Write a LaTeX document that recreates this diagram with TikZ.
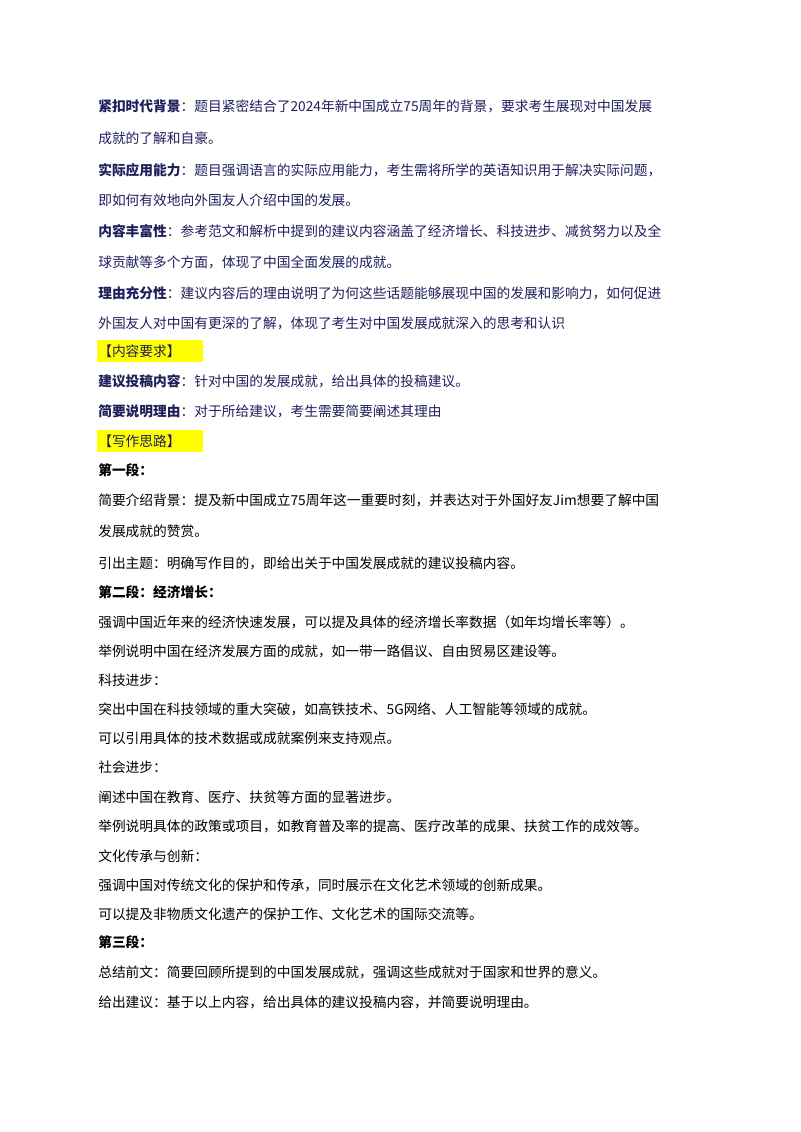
\documentclass[tikz,border=0pt]{standalone}
\usepackage{fontspec}
\newfontfamily\cjk{Noto Sans CJK SC}
\definecolor{navy}{HTML}{1F1F5C}
\definecolor{hl}{HTML}{FFFF00}
\begin{document}
\begin{tikzpicture}[x=0.75pt,y=-0.75pt,
  ln/.style={anchor=west,inner sep=0pt,font=\cjk\fontsize{10.3pt}{12pt}\selectfont},
  nv/.style={ln,text=navy},
  bk/.style={ln,text=black}]
\useasboundingbox[fill=white] (0,0) rectangle (800,1132);
\fill[hl] (97,340) rectangle (203,362);
\fill[hl] (97,430) rectangle (203,452);
\node[nv] (l1) at (98,106) {\textbf{紧扣时代背景}：题目紧密结合了2024年新中国成立75周年的背景，要求考生展现对中国发展};
\node[nv] (l2) at (98,138) {成就的了解和自豪。};
\node[nv] (l3) at (98,170) {\textbf{实际应用能力}：题目强调语言的实际应用能力，考生需将所学的英语知识用于解决实际问题，};
\node[nv] (l4) at (98,200) {即如何有效地向外国友人介绍中国的发展。};
\node[nv] (l5) at (98,231) {\textbf{内容丰富性}：参考范文和解析中提到的建议内容涵盖了经济增长、科技进步、减贫努力以及全};
\node[nv] (l6) at (98,262) {球贡献等多个方面，体现了中国全面发展的成就。};
\node[nv] (l7) at (98,293) {\textbf{理由充分性}：建议内容后的理由说明了为何这些话题能够展现中国的发展和影响力，如何促进};
\node[nv] (l8) at (98,323) {外国友人对中国有更深的了解，体现了考生对中国发展成就深入的思考和认识};
\node[nv] (h1) at (98,351) {【内容要求】};
\node[nv] (l9) at (98,381) {\textbf{建议投稿内容}：针对中国的发展成就，给出具体的投稿建议。};
\node[nv] (l10) at (98,411) {\textbf{简要说明理由}：对于所给建议，考生需要简要阐述其理由};
\node[nv] (h2) at (98,441) {【写作思路】};
\node[bk] (a1) at (98,470) {\textbf{第一段：}};
\node[bk] (a2) at (98,500) {简要介绍背景：提及新中国成立75周年这一重要时刻，并表达对于外国好友Jim想要了解中国};
\node[bk] (a3) at (98,531) {发展成就的赞赏。};
\node[bk] (a4) at (98,563) {引出主题：明确写作目的，即给出关于中国发展成就的建议投稿内容。};
\node[bk] (a5) at (98,592) {\textbf{第二段：经济增长：}};
\node[bk] (a6) at (98,622) {强调中国近年来的经济快速发展，可以提及具体的经济增长率数据（如年均增长率等）。};
\node[bk] (a7) at (98,651) {举例说明中国在经济发展方面的成就，如一带一路倡议、自由贸易区建设等。};
\node[bk] (a8) at (98,680) {科技进步：};
\node[bk] (a9) at (98,709) {突出中国在科技领域的重大突破，如高铁技术、5G网络、人工智能等领域的成就。};
\node[bk] (a10) at (98,738) {可以引用具体的技术数据或成就案例来支持观点。};
\node[bk] (a11) at (98,767) {社会进步：};
\node[bk] (a12) at (98,797) {阐述中国在教育、医疗、扶贫等方面的显著进步。};
\node[bk] (a13) at (98,826) {举例说明具体的政策或项目，如教育普及率的提高、医疗改革的成果、扶贫工作的成效等。};
\node[bk] (a14) at (98,856) {文化传承与创新：};
\node[bk] (a15) at (98,885) {强调中国对传统文化的保护和传承，同时展示在文化艺术领域的创新成果。};
\node[bk] (a16) at (98,914) {可以提及非物质文化遗产的保护工作、文化艺术的国际交流等。};
\node[bk] (a17) at (98,942) {\textbf{第三段：}};
\node[bk] (a18) at (98,972) {总结前文：简要回顾所提到的中国发展成就，强调这些成就对于国家和世界的意义。};
\node[bk] (a19) at (98,1002) {给出建议：基于以上内容，给出具体的建议投稿内容，并简要说明理由。};
\end{tikzpicture}
\end{document}
